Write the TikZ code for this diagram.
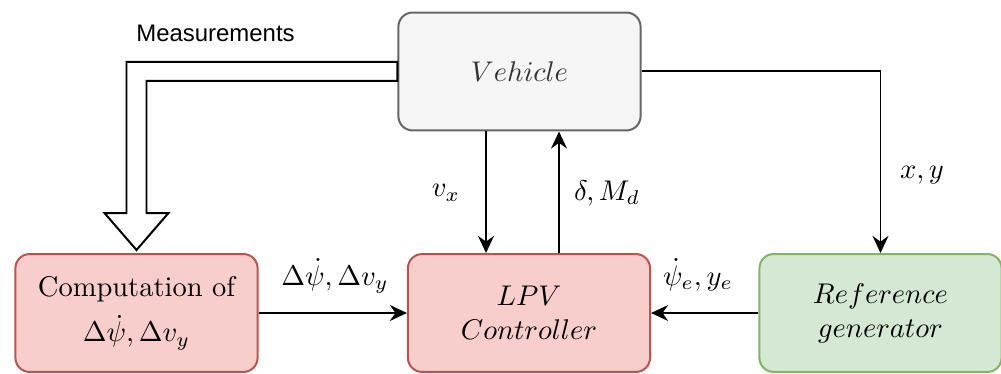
\documentclass[tikz,border=0pt]{standalone}
\usepackage{amsmath,amssymb}
\usepackage{fontspec}
\newfontfamily\measfont{Liberation Sans}
\usetikzlibrary{arrows.meta,positioning,calc}
\definecolor{vc}{HTML}{F5F5F5}
\definecolor{vd}{HTML}{666666}
\definecolor{rc}{HTML}{F8CECC}
\definecolor{rd}{HTML}{B85450}
\definecolor{gc}{HTML}{D5E8D4}
\definecolor{gd}{HTML}{82B366}
\definecolor{tc}{HTML}{333333}
\tikzset{blk/.style={draw,rounded corners=5pt,line width=.7pt,minimum width=85pt,minimum height=41.4pt,align=center,inner sep=2pt},
 vehbox/.style={blk,draw=vd,fill=vc,text=tc},ctlbox/.style={blk,draw=rd,fill=rc},
 refbox/.style={blk,draw=gd,fill=gc},
 arr/.style={-{Stealth[length=6pt,width=5.6pt,inset=2pt]},line width=.7pt},
 hollow/.style={line width=.7pt,fill=white},
 lbl/.style={inner sep=1pt}}
\begin{document}
\begin{tikzpicture}[x=0.351pt,y=-0.351pt]
\useasboundingbox (0,0) rectangle (1001,374);
\node[vehbox] (veh) at (519.5,71.5) {$Vehicle$};
\node[ctlbox] (comp) at (136.5,313) {Computation of\\[4pt]$\Delta\dot{\psi},\Delta v_y$};
\node[ctlbox] (lpv) at (529,313) {$LPV$\\$Controller$};
\node[refbox] (ref) at (880.5,313) {$Reference$\\$generator$};
\coordinate (vx) at (486,0);\coordinate (dm) at (559,0);
\draw[hollow] ($(veh.west)+(0,-9.5)$) -| ($(comp.north)+(-10,-40)$) -- ++(-22,0) -- ($(comp.north)+(0,-3)$)
 -- ++(32,-37) -- ++(-22,0) |- ($(veh.west)+(0,9.5)$) -- cycle;
\draw[arr] (veh.south -| vx) -- (lpv.north -| vx);
\draw[arr] (lpv.north -| dm) -- (veh.south -| dm);
\draw[arr] (veh.east) -| (ref.north);
\draw[arr] (comp.east) -- (lpv.west);
\draw[arr] (ref.west) -- (lpv.east);
\node[lbl,font=\measfont\fontsize{8.4}{10}\selectfont] (meas) at (215.5,33) {Measurements};
\node[lbl] (lvx) at (446,193) {$v_x$};
\node[lbl] (ldm) at (607,193) {$\delta,M_d$};
\node[lbl] (lxy) at (922,175) {$x,y$};
\node[lbl] (lpe) at (698,275) {$\dot{\psi}_e,y_e$};
\node[lbl] (ldp) at (335,276) {$\Delta\dot{\psi},\Delta v_y$};
\end{tikzpicture}
\end{document}
